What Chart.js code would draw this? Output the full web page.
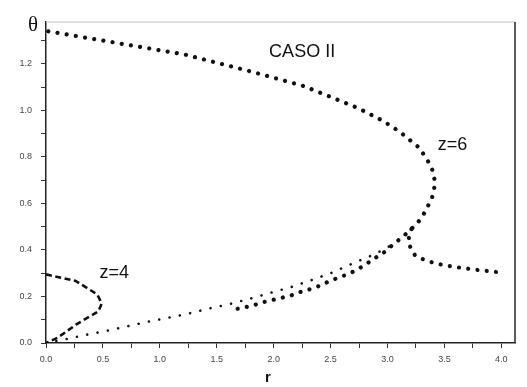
<!DOCTYPE html>
<html>
<head>
<meta charset="utf-8">
<script src="https://cdn.jsdelivr.net/npm/chart.js@4.4.0/dist/chart.umd.min.js"></script>
<style>
  html, body { margin: 0; padding: 0; background: #fff; }
  #wrap { width: 527px; height: 387px; }
</style>
</head>
<body>
<div id="wrap"><canvas id="chart" width="527" height="387"></canvas></div>
<script>
// values: r on the x axis, theta on the y axis
// z=6, upper branch round the nose and back down-left (big dots)
const z6R = [0.02, 0.26, 0.50, 0.74, 0.98, 1.22, 1.46, 1.70, 1.93, 2.26, 2.49, 2.74, 2.96, 3.11, 3.28, 3.35, 3.39, 3.42, 3.39, 3.32, 3.27, 3.21, 3.14, 3.05, 2.97, 2.90, 2.82, 2.74, 2.66, 2.58, 2.49, 2.42, 2.34, 2.25, 2.15, 2.05, 1.91, 1.83, 1.76, 1.64];
const z6Theta = [1.34, 1.32, 1.30, 1.28, 1.26, 1.24, 1.21, 1.18, 1.15, 1.105, 1.06, 1.01, 0.955, 0.907, 0.839, 0.787, 0.751, 0.688, 0.621, 0.556, 0.52, 0.49, 0.459, 0.424, 0.39, 0.368, 0.342, 0.317, 0.297, 0.283, 0.266, 0.249, 0.234, 0.222, 0.204, 0.192, 0.176, 0.163, 0.155, 0.143];

// z=6, branch leaving the junction to the right
const z6TailR = [3.21, 3.19, 3.18, 3.24, 3.32, 3.41, 3.49, 3.59, 3.67, 3.77, 3.87, 3.96];
const z6TailTheta = [0.49, 0.457, 0.431, 0.378, 0.358, 0.344, 0.335, 0.327, 0.322, 0.315, 0.31, 0.305];

// small dots from the origin up to the junction
const originR = [0, 0.16, 0.34, 0.51, 0.69, 0.87, 1.05, 1.24, 1.42, 1.61, 1.79, 1.96, 2.15, 2.33, 2.51, 2.69, 2.88, 3.05];
const originTheta = [0, 0.015, 0.034, 0.05, 0.069, 0.089, 0.106, 0.125, 0.147, 0.167, 0.19, 0.214, 0.24, 0.27, 0.302, 0.341, 0.38, 0.424];

// z=4 (dashed)
const z4R = [0, 0.26, 0.45, 0.49, 0.46, 0.27, 0.10, 0];
const z4Theta = [0.295, 0.267, 0.209, 0.17, 0.136, 0.081, 0.022, 0];

// tick marks (labels only on every other one)
const xTicks = [0, 0.25, 0.5, 0.75, 1.0, 1.25, 1.5, 1.75, 2.0, 2.25, 2.5, 2.75, 3.0, 3.25, 3.5, 3.75, 4.0];
const yTicks = [0, 0.1, 0.2, 0.3, 0.4, 0.5, 0.6, 0.7, 0.8, 0.9, 1.0, 1.1, 1.2, 1.3];

function pts(rs, ths) {
  return rs.map((r, i) => ({ x: r, y: ths[i] }));
}

function isMajor(v, step) {
  const k = v / step;
  return Math.abs(k - Math.round(k)) < 1e-6;
}

// frame and hand-placed labels
const annotate = {
  id: 'annotate',
  afterDraw(chart) {
    const { ctx, chartArea: a, scales: { x, y } } = chart;
    ctx.save();
    ctx.strokeStyle = '#c4c4c4';
    ctx.lineWidth = 1;
    ctx.beginPath();
    ctx.moveTo(a.left, a.top);
    ctx.lineTo(a.right, a.top);
    ctx.stroke();
    ctx.strokeStyle = '#333';
    ctx.lineWidth = 1.6;
    ctx.beginPath();
    ctx.moveTo(a.right, a.top);
    ctx.lineTo(a.right, a.bottom);
    ctx.stroke();

    ctx.fillStyle = '#111';
    ctx.textAlign = 'center';
    ctx.textBaseline = 'middle';
    ctx.font = '18px "Liberation Sans", Arial, sans-serif';
    ctx.fillText('CASO II', x.getPixelForValue(2.25), y.getPixelForValue(1.25));
    ctx.fillText('z=6', x.getPixelForValue(3.57), y.getPixelForValue(0.85));
    ctx.fillText('z=4', x.getPixelForValue(0.6), y.getPixelForValue(0.3));

    ctx.font = '21px "Liberation Serif", "DejaVu Serif", serif';
    ctx.fillText('θ', 33, 25);
    ctx.font = 'bold 15px "Liberation Sans", Arial, sans-serif';
    ctx.fillText('r', x.getPixelForValue(1.95), 378);
    ctx.restore();
  }
};

const bigDots = {
  borderColor: '#111',
  borderWidth: 4.2,
  borderDash: [0.01, 9.3],
  borderCapStyle: 'round',
  pointRadius: 0,
  showLine: true,
  tension: 0
};

new Chart(document.getElementById('chart'), {
  type: 'scatter',
  data: {
    datasets: [
      Object.assign({ label: 'z=6', data: pts(z6R, z6Theta) }, bigDots),
      Object.assign({ label: 'z=6 tail', data: pts(z6TailR, z6TailTheta) }, bigDots),
      {
        label: 'origin',
        data: pts(originR, originTheta),
        borderColor: '#111',
        borderWidth: 2.6,
        borderDash: [0.01, 10.5],
        borderCapStyle: 'round',
        pointRadius: 0,
        showLine: true,
        tension: 0
      },
      {
        label: 'z=4',
        data: pts(z4R, z4Theta),
        borderColor: '#111',
        borderWidth: 2.6,
        borderDash: [6, 3.5],
        pointRadius: 0,
        showLine: true,
        tension: 0
      }
    ]
  },
  options: {
    responsive: false,
    animation: false,
    layout: { padding: { top: 22, right: 12, left: 0, bottom: 0 } },
    plugins: {
      legend: { display: false },
      tooltip: { enabled: false }
    },
    scales: {
      x: {
        type: 'linear',
        min: 0,
        max: 4.12,
        afterFit(scale) { scale.height = 44; },
        afterBuildTicks(scale) { scale.ticks = xTicks.map(v => ({ value: v })); },
        border: { display: true, color: '#222', width: 1.5 },
        grid: { drawOnChartArea: false, drawTicks: true, tickLength: 5, color: '#333' },
        ticks: {
          autoSkip: false,
          maxRotation: 0,
          padding: 6,
          color: '#444',
          font: { size: 9, family: '"Liberation Sans", Arial, sans-serif' },
          callback: v => isMajor(v, 0.5) ? v.toFixed(1) : ''
        }
      },
      y: {
        type: 'linear',
        min: 0,
        max: 1.38,
        afterFit(scale) { scale.width = 46; },
        afterBuildTicks(scale) { scale.ticks = yTicks.map(v => ({ value: v })); },
        border: { display: true, color: '#222', width: 1.5 },
        grid: { drawOnChartArea: false, drawTicks: true, tickLength: 5, color: '#333' },
        ticks: {
          autoSkip: false,
          padding: 9,
          color: '#444',
          font: { size: 9, family: '"Liberation Sans", Arial, sans-serif' },
          callback: v => (isMajor(v, 0.2) && v < 1.25) ? v.toFixed(1) : ''
        }
      }
    }
  },
  plugins: [annotate]
});
</script>
</body>
</html>
